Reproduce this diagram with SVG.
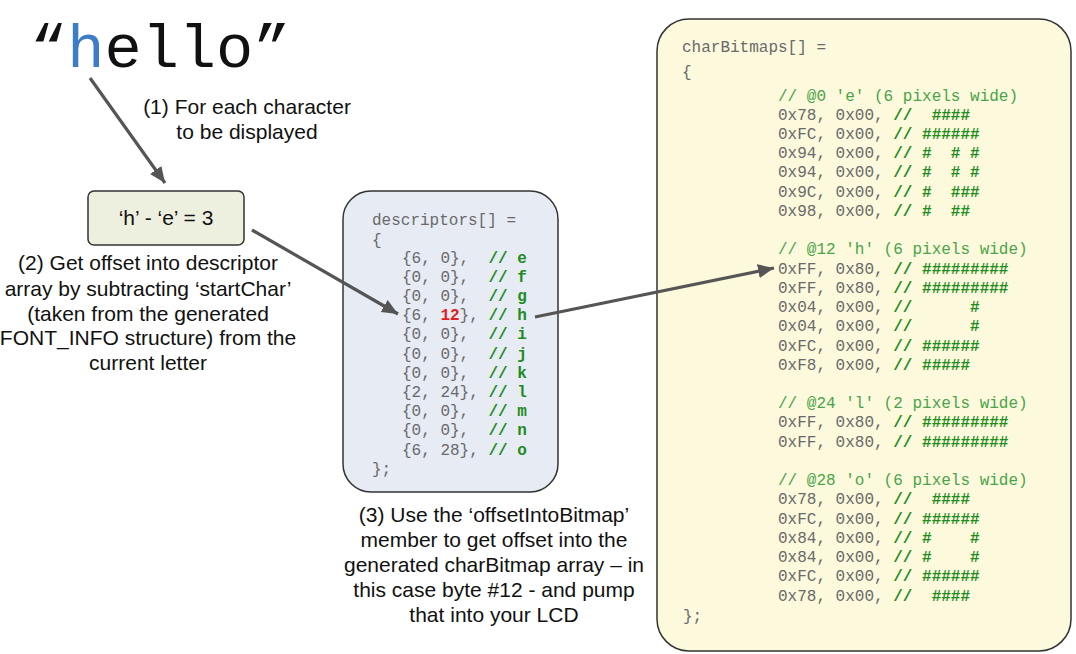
<svg xmlns="http://www.w3.org/2000/svg" width="1076" height="654" viewBox="0 0 1076 654">
<style>
.lbl{font-family:"Liberation Sans",Arial,sans-serif;font-size:21px;fill:#111;text-anchor:middle}
.code{font-family:"Liberation Mono","Courier New",monospace;font-size:16px;white-space:pre}
.g{fill:#6a6a6a}
.cm{fill:#1e8c1e;font-weight:bold}
.hd{fill:#4aa44a}
.red{fill:#e0201e;font-weight:bold}
.box{stroke:#333;stroke-width:1.5}
.conn{stroke:#555;stroke-width:3.2;fill:none}
</style>
<defs>
<marker id="ah" markerUnits="userSpaceOnUse" markerWidth="18" markerHeight="16" refX="16" refY="7" orient="auto">
<path d="M0,0 L16,7 L0,14 z" fill="#555"/>
</marker>
</defs>

<g id="hello">
<text x="30" y="67" font-family="'Liberation Mono','Courier New',monospace" font-size="62" fill="#111">“<tspan fill="#3d7cc9">h</tspan>ello”</text>
</g>

<g id="label1">
<text class="lbl" x="247" y="114">(1) For each character</text>
<text class="lbl" x="247" y="139">to be displayed</text>
</g>

<g id="offsetBox">
<rect class="box" x="88" y="191" width="156" height="54" rx="6" fill="#eef0df"/>
<text class="lbl" x="166" y="225">‘h’ - ‘e’ = 3</text>
</g>

<g id="label2">
<text class="lbl" x="148" y="270">(2) Get offset into descriptor</text>
<text class="lbl" x="148" y="296">array by subtracting ‘startChar’</text>
<text class="lbl" x="148" y="321">(taken from the generated</text>
<text class="lbl" x="148" y="345">FONT_INFO structure) from the</text>
<text class="lbl" x="148" y="370">current letter</text>
</g>

<g id="descriptors" xml:space="preserve">
<rect class="box" x="343" y="191" width="215" height="301" rx="28" fill="#e6ebf4"/>
<text class="code g" x="372" y="224.5">descriptors[] =</text>
<text class="code g" x="372" y="245">{</text>
<text class="code" x="402" y="262.5"><tspan class="g">{6, 0},  </tspan><tspan class="cm">// e</tspan></text>
<text class="code" x="402" y="281.7"><tspan class="g">{0, 0},  </tspan><tspan class="cm">// f</tspan></text>
<text class="code" x="402" y="300.9"><tspan class="g">{0, 0},  </tspan><tspan class="cm">// g</tspan></text>
<text class="code" x="402" y="320.1"><tspan class="g">{6, </tspan><tspan class="red">12</tspan><tspan class="g">}, </tspan><tspan class="cm">// h</tspan></text>
<text class="code" x="402" y="339.3"><tspan class="g">{0, 0},  </tspan><tspan class="cm">// i</tspan></text>
<text class="code" x="402" y="358.5"><tspan class="g">{0, 0},  </tspan><tspan class="cm">// j</tspan></text>
<text class="code" x="402" y="377.7"><tspan class="g">{0, 0},  </tspan><tspan class="cm">// k</tspan></text>
<text class="code" x="402" y="396.9"><tspan class="g">{2, 24}, </tspan><tspan class="cm">// l</tspan></text>
<text class="code" x="402" y="416.1"><tspan class="g">{0, 0},  </tspan><tspan class="cm">// m</tspan></text>
<text class="code" x="402" y="435.3"><tspan class="g">{0, 0},  </tspan><tspan class="cm">// n</tspan></text>
<text class="code" x="402" y="454.5"><tspan class="g">{6, 28}, </tspan><tspan class="cm">// o</tspan></text>
<text class="code g" x="372" y="474">};</text>
</g>

<g id="label3">
<text class="lbl" x="494" y="522">(3) Use the ‘offsetIntoBitmap’</text>
<text class="lbl" x="494" y="547">member to get offset into the</text>
<text class="lbl" x="494" y="572">generated charBitmap array – in</text>
<text class="lbl" x="494" y="597">this case byte #12 - and pump</text>
<text class="lbl" x="494" y="622">that into your LCD</text>
</g>

<g id="charBitmaps" xml:space="preserve">
<rect class="box" x="657" y="19" width="414" height="632" rx="32" fill="#fcf9dc"/>
<text class="code g" x="682" y="52">charBitmaps[] =</text>
<text class="code g" x="682" y="77">{</text>
<text class="code hd" x="778" y="100.5">// @0 'e' (6 pixels wide)</text>
<text class="code" x="778" y="119.7"><tspan class="g">0x78, 0x00, </tspan><tspan class="cm">//  ####</tspan></text>
<text class="code" x="778" y="139.0"><tspan class="g">0xFC, 0x00, </tspan><tspan class="cm">// ######</tspan></text>
<text class="code" x="778" y="158.2"><tspan class="g">0x94, 0x00, </tspan><tspan class="cm">// #  # #</tspan></text>
<text class="code" x="778" y="177.4"><tspan class="g">0x94, 0x00, </tspan><tspan class="cm">// #  # #</tspan></text>
<text class="code" x="778" y="196.7"><tspan class="g">0x9C, 0x00, </tspan><tspan class="cm">// #  ###</tspan></text>
<text class="code" x="778" y="215.9"><tspan class="g">0x98, 0x00, </tspan><tspan class="cm">// #  ##</tspan></text>
<text class="code hd" x="778" y="254.3">// @12 'h' (6 pixels wide)</text>
<text class="code" x="778" y="273.6"><tspan class="g">0xFF, 0x80, </tspan><tspan class="cm">// #########</tspan></text>
<text class="code" x="778" y="292.8"><tspan class="g">0xFF, 0x80, </tspan><tspan class="cm">// #########</tspan></text>
<text class="code" x="778" y="312.0"><tspan class="g">0x04, 0x00, </tspan><tspan class="cm">//      #</tspan></text>
<text class="code" x="778" y="331.3"><tspan class="g">0x04, 0x00, </tspan><tspan class="cm">//      #</tspan></text>
<text class="code" x="778" y="350.5"><tspan class="g">0xFC, 0x00, </tspan><tspan class="cm">// ######</tspan></text>
<text class="code" x="778" y="369.7"><tspan class="g">0xF8, 0x00, </tspan><tspan class="cm">// #####</tspan></text>
<text class="code hd" x="778" y="408.2">// @24 'l' (2 pixels wide)</text>
<text class="code" x="778" y="427.4"><tspan class="g">0xFF, 0x80, </tspan><tspan class="cm">// #########</tspan></text>
<text class="code" x="778" y="446.6"><tspan class="g">0xFF, 0x80, </tspan><tspan class="cm">// #########</tspan></text>
<text class="code hd" x="778" y="485.1">// @28 'o' (6 pixels wide)</text>
<text class="code" x="778" y="504.3"><tspan class="g">0x78, 0x00, </tspan><tspan class="cm">//  ####</tspan></text>
<text class="code" x="778" y="523.6"><tspan class="g">0xFC, 0x00, </tspan><tspan class="cm">// ######</tspan></text>
<text class="code" x="778" y="542.8"><tspan class="g">0x84, 0x00, </tspan><tspan class="cm">// #    #</tspan></text>
<text class="code" x="778" y="562.0"><tspan class="g">0x84, 0x00, </tspan><tspan class="cm">// #    #</tspan></text>
<text class="code" x="778" y="581.3"><tspan class="g">0xFC, 0x00, </tspan><tspan class="cm">// ######</tspan></text>
<text class="code" x="778" y="600.5"><tspan class="g">0x78, 0x00, </tspan><tspan class="cm">//  ####</tspan></text>
<text class="code g" x="683" y="621">};</text>
</g>

<g id="connectors">
<line class="conn" x1="90" y1="78" x2="165" y2="183" marker-end="url(#ah)"/>
<line class="conn" x1="252" y1="230" x2="398" y2="314" marker-end="url(#ah)"/>
<line class="conn" x1="535" y1="317" x2="774" y2="268" marker-end="url(#ah)"/>
</g>
</svg>
